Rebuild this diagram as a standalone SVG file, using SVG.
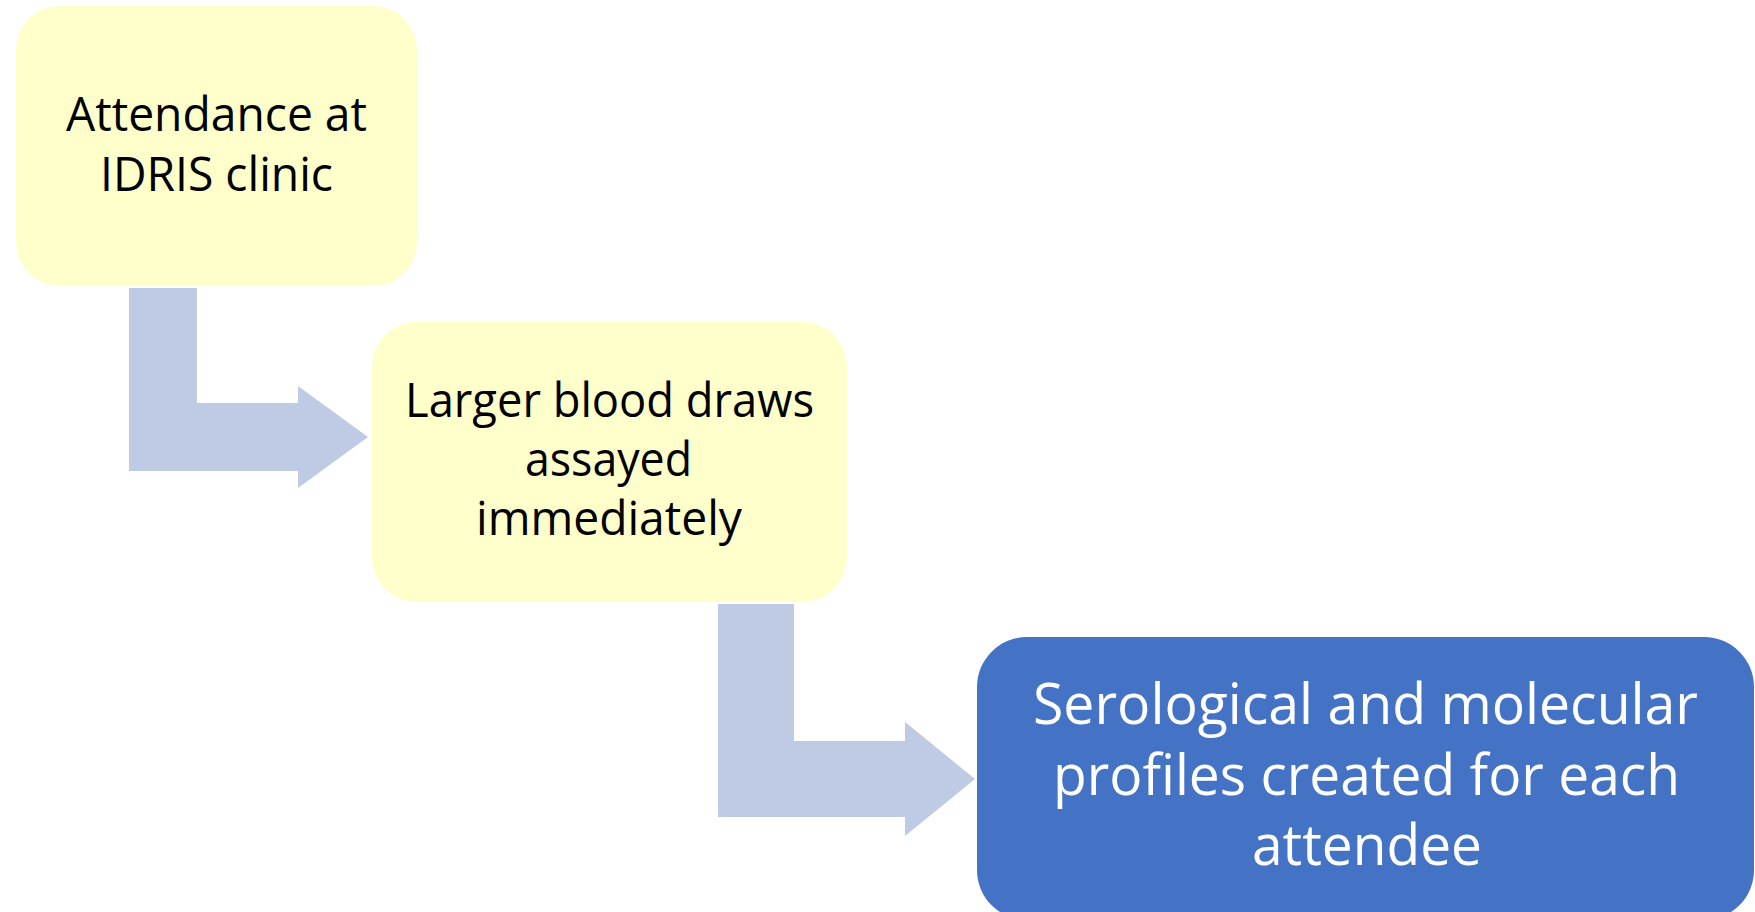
<svg xmlns="http://www.w3.org/2000/svg" width="1755" height="912" viewBox="0 0 1755 912">
<style>
.yel{fill:#FFFFCC;}
.blue{fill:#4472C4;}
.arr{fill:#BFCAE4;}
.t{font-family:"Open Sans","Noto Sans","Liberation Sans",sans-serif;text-anchor:middle;}
.dk{fill:#000000;font-size:48px;}
.wh{fill:#FFFFFF;font-size:56px;}
</style>
<rect width="1755" height="912" fill="#FFFFFF"/>
<g id="connectors">
<polygon class="arr" points="129,288 197,288 197,403 298,403 298,386 368,437 298,488 298,471 129,471"/>
<polygon class="arr" points="718,604 794,604 794,741 905,741 905,722 975,779 905,836 905,817 718,817"/>
</g>
<g id="node1">
<rect class="yel" x="16" y="6" width="401" height="280" rx="44" ry="44"/>
<text class="t dk" x="216.5" y="131" textLength="301" lengthAdjust="spacingAndGlyphs">Attendance at</text>
<text class="t dk" x="216.5" y="191" textLength="233" lengthAdjust="spacingAndGlyphs">IDRIS clinic</text>
</g>
<g id="node2">
<rect class="yel" x="372" y="322" width="475" height="280" rx="45" ry="45"/>
<text class="t dk" x="609.5" y="417" textLength="409" lengthAdjust="spacingAndGlyphs">Larger blood draws</text>
<text class="t dk" x="608.5" y="476" textLength="167" lengthAdjust="spacingAndGlyphs">assayed</text>
<text class="t dk" x="609" y="535" textLength="266" lengthAdjust="spacingAndGlyphs">immediately</text>
</g>
<g id="node3">
<rect class="blue" x="977" y="637" width="777" height="283" rx="50" ry="50"/>
<text class="t wh" x="1365.5" y="724" textLength="665" lengthAdjust="spacingAndGlyphs">Serological and molecular</text>
<text class="t wh" x="1366.5" y="795" textLength="627" lengthAdjust="spacingAndGlyphs">profiles created for each</text>
<text class="t wh" x="1367" y="865" textLength="230" lengthAdjust="spacingAndGlyphs">attendee</text>
</g>
</svg>
